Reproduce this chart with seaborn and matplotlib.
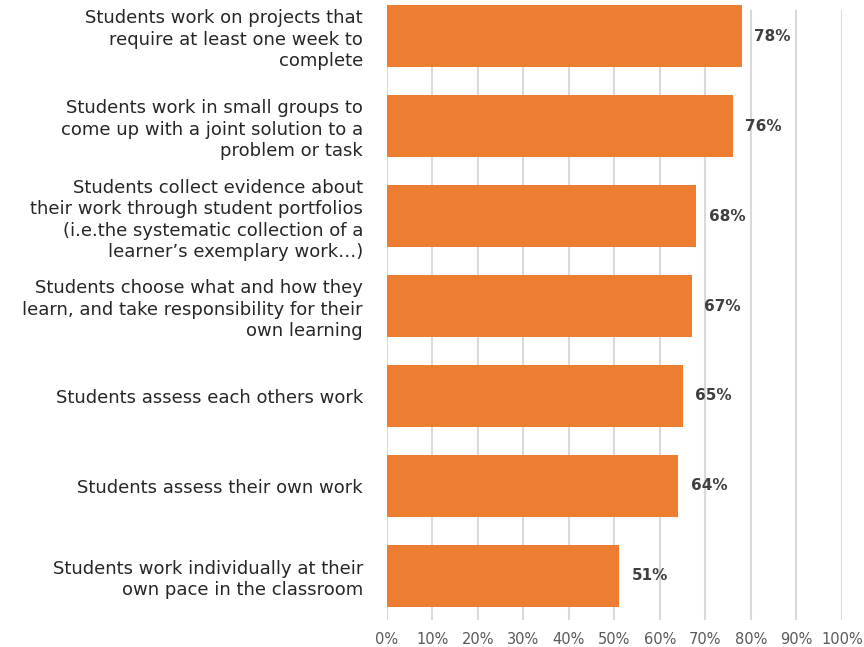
import matplotlib
matplotlib.use("Agg")
import matplotlib.pyplot as plt
import seaborn as sns
import pandas as pd

categories = [
    "Students work on projects that\nrequire at least one week to\ncomplete",
    "Students work in small groups to\ncome up with a joint solution to a\nproblem or task",
    "Students collect evidence about\ntheir work through student portfolios\n(i.e.the systematic collection of a\nlearner\u2019s exemplary work\u2026)",
    "Students choose what and how they\nlearn, and take responsibility for their\nown learning",
    "Students assess each others work",
    "Students assess their own work",
    "Students work individually at their\nown pace in the classroom",
]
values = [78, 76, 68, 67, 65, 64, 51]
x_ticks = [0, 10, 20, 30, 40, 50, 60, 70, 80, 90, 100]
x_tick_labels = [f"{t}%" for t in x_ticks]

sns.set_theme(style="white")
plt.rcParams["font.family"] = ["DejaVu Sans"]

df = pd.DataFrame({"category": categories, "value": values})

fig = plt.figure(figsize=(8.64, 6.47), dpi=100)
ax = fig.add_axes([386.7 / 864, 27 / 647, (842 - 386.7) / 864, (620 - 10) / 647])

sns.barplot(data=df, x="value", y="category", orient="h", color="#ED7D31",
            saturation=1, width=0.68, ax=ax, zorder=3, linewidth=0)

for p in ax.patches:
    p.set_clip_on(False)

ax.set_xlim(0, 100)
ax.set_ylim(6.489, -0.289)
ax.set_xticks(x_ticks)
ax.set_xticklabels(x_tick_labels, color="#595959", fontsize=10.5)
ax.tick_params(axis="x", length=0, pad=9)
ax.tick_params(axis="y", length=0, pad=17)
for lbl in ax.get_yticklabels():
    lbl.set_fontsize(13)
    lbl.set_color("#262626")
    lbl.set_horizontalalignment("right")
    lbl.set_multialignment("right")
    lbl.set_linespacing(1.25)

ax.xaxis.grid(True, color="#D9D9D9", linewidth=1.5, zorder=0)
ax.yaxis.grid(False)
for s in ax.spines.values():
    s.set_visible(False)
ax.set_xlabel("")
ax.set_ylabel("")

ax.bar_label(ax.containers[0], labels=[f"{v}%" for v in values], padding=9,
             fontsize=11, fontweight="bold", color="#404040")

fig.savefig("out.png", dpi=100)
